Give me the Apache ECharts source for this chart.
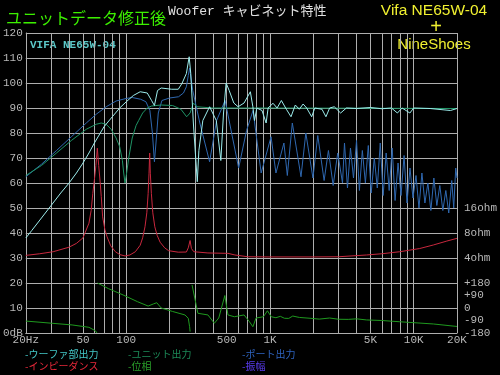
<!DOCTYPE html>
<html><head><meta charset="utf-8">
<script src="https://cdn.jsdelivr.net/npm/echarts@6/dist/echarts.min.js"></script>
<style>html,body{margin:0;padding:0;background:#000;}#c{width:500px;height:375px;}</style>
</head><body><div id="c"></div>
<script>
// ---- axis ticks / labels ----
const gridFreqs = [20,30,40,50,60,70,80,90,100,200,300,400,500,600,700,800,900,1000,2000,3000,4000,5000,6000,7000,8000,9000,10000,20000];
const xLabelFreqs = [20,50,100,500,1000,5000,10000,20000];
const xLabelTexts = ['20Hz','50','100','500','1K','5K','10K','20K'];
const rightTickValues = [0,5,10,15,20,30,40,50];
const rightTickTexts = ['-180','-90','0','+90','+180','4ohm','8ohm','16ohm'];

// ---- series: [frequency Hz, value] ----
// woofer section output (dB)
const wooferOutput = [[20,38],[22,41],[25.7,46],[30,51],[35,56],[40,60],[45,64],[50,68],[55,72],[60,76],[70,82.5],[80,86.5],[90,90],[100,92.5],[112,95],[125,96.5],[140,96],[150,93],[157,91],[165,97],[175,98],[207,97.5],[230,97.5],[244,99.8],[262,103.8],[274,110.5],[281,103.8],[293,84],[312,60.5],[320,73],[341,85],[380,90.5],[423,85],[455,69],[475,88],[495,100],[520,97],[560,92],[600,90.5],[660,92],[730,96.5],[760,90.5],[780,85],[810,90],[880,89],[940,84],[970,90],[1050,91.9],[1120,90],[1200,93],[1300,89.5],[1400,86.5],[1500,91.2],[1600,89.5],[1700,91.6],[1800,90],[1950,86.5],[2050,90],[2300,89.5],[2450,86.5],[2600,90],[2800,90.5],[3100,88],[3400,90],[4000,89.8],[5000,90.2],[6000,89.7],[7000,90],[7700,88],[8300,90],[9400,88],[10000,90],[13000,89.8],[18000,89],[20000,89.8]];
// unit output (dB)
const unitOutput = [[20,63],[25.7,67],[32.7,72],[41.5,77],[52.7,81.5],[61.8,83.5],[67,84],[72.5,83.5],[78.5,81.5],[85,78],[90,74.5],[94,69],[96,64],[98,60],[100,63],[104,70],[110,78],[117,83],[122,85],[130,88],[140,90],[150,90.8],[175,91.2],[210,91],[240,89.5],[263,86.5],[278,88],[293,92],[310,90.5],[400,90],[1000,90],[20000,89.8]];
// port output (dB)
const portOutput = [[20,62.5],[25.7,67.5],[32.7,73],[41.5,78.5],[52.7,84],[61.8,87.5],[72.5,90.5],[85,92.8],[99.6,93.8],[110,94.2],[126,93.5],[137,92.5],[146,89],[152,80],[157,68.5],[162,78],[167,88],[177,93],[200,94],[231,94.5],[250,96],[262,98.5],[270,103],[276,106],[290,97],[325,84],[380,68.5],[425,85],[487,93],[605,66],[687,81],[762,89],[868,64],[1017,78.5],[1100,64],[1250,76],[1320,63],[1430,84],[1643,62.5],[1775,80],[1990,62],[2150,79],[2380,61],[2550,73],[2750,59],[2960,72],[3195,60],[3298,76],[3460,58],[3630,74],[3810,62],[4000,77],[4187,57],[4390,73],[4610,60],[4830,75],[5060,56],[5316,70],[5580,58],[5850,76],[6130,55],[6430,72],[6748,57],[7080,74],[7420,53],[7780,68],[8160,55],[8567,71],[8980,52],[9420,66],[9880,54],[10370,63],[10876,50],[11400,64],[11960,52],[12550,60],[13160,49],[13807,62],[14480,51],[15190,59],[15940,49],[16720,57],[17528,48],[18390,61],[18979,50],[19600,66],[20000,62]];
// impedance (ohm)
const impedance = [[20,4.3],[25,4.5],[31,4.76],[40,5.4],[45,6.0],[50,7.0],[55,10.5],[57,15],[58.5,24],[60,35],[61.5,52],[62.9,84],[64.3,52],[65.8,33],[67,22],[68.5,12.5],[71,8.8],[73.5,7.2],[78,5.6],[84,4.76],[90,4.4],[98,4.23],[106,4.35],[115.7,4.76],[125,5.7],[130,7],[135,9.5],[139,14],[142,24],[144,42],[145.5,73.5],[147,42],[149.5,24],[153,14],[158,9.5],[164,7.5],[172,6.2],[185,5.3],[197,4.9],[230,4.7],[262,4.72],[270,5.3],[278,6.5],[284,5.2],[295,4.76],[370,4.6],[510,4.55],[570,4.35],[700,4.14],[1000,4.12],[2000,4.12],[3000,4.14],[4700,4.35],[6000,4.5],[8000,4.76],[11000,5.2],[13700,5.74],[17000,6.4],[20000,6.9]];
// phase (degrees), null = wrap break
const phase = [[20,-94],[42,-122],[55,-139],[61,-164],[62.5,-180],[62.7,null],[63,180],[75,140],[95,94],[120,45],[142,14],[155,30],[163,38],[175,0],[210,-25],[256,-50],[270,-74],[276,-135],[278,-170],[282,null],[287,166],[315,-38],[370,-50],[410,-110],[440,-72],[485,90],[510,-50],[565,-63],[660,-50],[720,-99],[760,-135],[800,-72],[900,-63],[960,-20],[1020,-63],[1100,-70],[1180,-60],[1260,-74],[1350,-75],[1440,-58],[1600,-68],[1900,-74],[2200,-80],[2600,-72],[3000,-81],[3500,-82],[4000,-78],[4700,-86],[6000,-90],[8000,-99],[13700,-115],[20000,-133]];

const legendRow1 = ['-ウーファ部出力','-ユニット出力','-ポート出力'];
const legendRow2 = ['-インピーダンス','-位相','-振幅'];

// ---- build ----
const lg = f => Math.log10(f);
const ohmToAxis = o => 30 + 10 * Math.log2(o / 4);
const degToAxis = d => 10 + d / 18;
const same = v => v;
const toXY = (arr, fn) => arr.map(([f, v]) => [lg(f), v == null ? '-' : fn(v)]);

const gridColor = '#aeaeae';
const monoFont = '"Liberation Mono", "DejaVu Sans Mono", monospace';
const lblStyle = { color: '#b8b8b8', fontFamily: monoFont, fontSize: 11 };

const C = {
  woofer: '#9cecec', unit: '#1f9466', port: '#2f68b0', imp: '#c8283e', phase: '#1f9a1f'
};

const chart = echarts.init(document.getElementById('c'), null, { renderer: 'canvas', width: 500, height: 375 });

function line(name, data, color, z) {
  return { name, type: 'line', data, showSymbol: false, symbol: 'none', z: z || 2,
    lineStyle: { color, width: 1 }, itemStyle: { color }, connectNulls: false, silent: true };
}

const legendCols = [25, 128, 242];
const legendColors1 = ['#44c8c8', '#1c8a58', '#2e64c0'];
const legendColors2 = ['#e8283a', '#2aa02a', '#5a3cf0'];
const graphics = [
  { type: 'text', x: 6, y: 18, style: { text: 'ユニットデータ修正後', fill: '#3cf000', font: '16px "Noto Sans CJK JP"', align: 'left', verticalAlign: 'middle' } },
  { type: 'text', x: 168, y: 12, style: { text: 'Woofer キャビネット特性', fill: '#e0e0e0', font: '13px "Liberation Mono", "Noto Sans CJK JP"', align: 'left', verticalAlign: 'middle' } },
  { type: 'text', x: 434, y: 11, style: { text: 'Vifa NE65W-04', fill: '#f0f030', font: '15.5px "Liberation Sans", Arial', align: 'center', verticalAlign: 'middle' } },
  { type: 'text', x: 436, y: 27, style: { text: '+', fill: '#f0f030', font: '20px "Liberation Sans", Arial', align: 'center', verticalAlign: 'middle' } },
  { type: 'text', x: 434, y: 45, style: { text: 'NineShoes', fill: '#f0f030', font: '15px "Liberation Sans", Arial', align: 'center', verticalAlign: 'middle' } },
  { type: 'text', x: 30, y: 45, style: { text: 'VIFA NE65W-04', fill: '#5cc8c8', font: 'bold 11px "Liberation Mono", monospace', align: 'left', verticalAlign: 'middle' } }
];
legendRow1.forEach((t, i) => graphics.push({ type: 'text', x: legendCols[i], y: 354, style: { text: t, fill: legendColors1[i], font: '10px "Noto Sans CJK JP"', align: 'left', verticalAlign: 'middle' } }));
legendRow2.forEach((t, i) => graphics.push({ type: 'text', x: legendCols[i], y: 366, style: { text: t, fill: legendColors2[i], font: '10px "Noto Sans CJK JP"', align: 'left', verticalAlign: 'middle' } }));

chart.setOption({
  backgroundColor: '#000',
  animation: false,
  grid: { left: 23, right: 43, top: 33, bottom: 42, containLabel: false },
  xAxis: {
    type: 'value', min: lg(20), max: lg(20000),
    axisLine: { show: true, lineStyle: { color: gridColor, width: 1 } },
    axisTick: { show: false, customValues: gridFreqs.map(lg) },
    splitLine: { show: true, lineStyle: { color: gridColor, width: 1 } },
    axisLabel: Object.assign({
      customValues: xLabelFreqs.map(lg), margin: 2, showMinLabel: true, showMaxLabel: true, hideOverlap: false,
      formatter: v => { const i = xLabelFreqs.findIndex(f => Math.abs(lg(f) - v) < 1e-6); return i >= 0 ? xLabelTexts[i] : ''; }
    }, lblStyle)
  },
  yAxis: [{
    type: 'value', min: 0, max: 120, interval: 10,
    axisLine: { show: true, lineStyle: { color: gridColor, width: 1 } },
    axisTick: { show: false },
    splitLine: { show: true, lineStyle: { color: gridColor, width: 1 } },
    axisLabel: Object.assign({ margin: 3, formatter: v => v === 0 ? '0dB' : String(v) }, lblStyle)
  }, {
    type: 'value', min: 0, max: 120, interval: 5, position: 'right',
    axisLine: { show: false }, axisTick: { show: false }, splitLine: { show: false },
    axisLabel: Object.assign({ margin: 7, formatter: v => { const i = rightTickValues.indexOf(v); return i >= 0 ? rightTickTexts[i] : ''; } }, lblStyle)
  }],
  graphic: graphics,
  series: [
    line('インピーダンス', toXY(impedance, ohmToAxis), C.imp, 2),
    line('位相', toXY(phase, degToAxis), C.phase, 2),
    line('ポート出力', toXY(portOutput, same), C.port, 3),
    line('ユニット出力', toXY(unitOutput, same), C.unit, 4),
    line('ウーファ部出力', toXY(wooferOutput, same), C.woofer, 5)
  ]
});
</script></body></html>
